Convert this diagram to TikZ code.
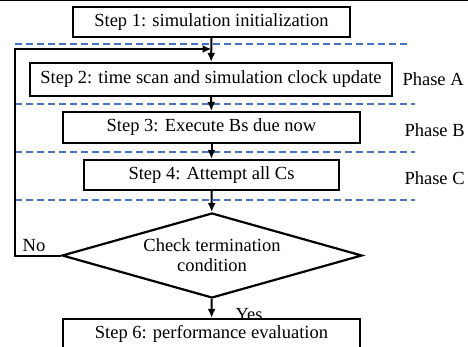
\documentclass[tikz,border=0pt]{standalone}
\usepackage{fontspec}
\setmainfont{Liberation Serif}
\usetikzlibrary{arrows.meta,shapes.geometric}
\definecolor{phaseblue}{RGB}{68,114,196}
\tikzset{
  stepbox/.style={draw, line width=2.2pt, fill=white, minimum height=30pt, inner sep=0pt},
  phaseline/.style={phaseblue, line width=1.8pt, dash pattern=on 7pt off 4pt},
  flow/.style={line width=2pt, -{Latex[length=9pt,width=8pt]}},
}
\begin{document}
\begin{tikzpicture}[x=1pt,y=-1pt,font=\fontsize{18.5}{20}\selectfont]
\clip (0,0) rectangle (468,347);
\draw[line width=2pt] (0,0.5) -- (468,0.5);

\node[stepbox, minimum width=277pt] (s1) at (211.5,22) {Step 1: simulation initialization};
\node[stepbox, minimum width=362pt, minimum height=33pt] (s2) at (211,79.5) {Step 2: time scan and simulation clock update};
\node[stepbox, minimum width=297pt, minimum height=31pt] (s3) at (211.5,127.5) {Step 3: Execute Bs due now};
\node[stepbox, minimum width=255pt] (s4) at (211.5,175) {Step 4: Attempt all Cs};
\node[draw, diamond, line width=2.2pt, aspect=3.5, inner sep=0pt, minimum width=300pt, minimum height=85pt, align=center] (chk) at (212,255.5) {Check termination\\condition};

\node[anchor=west] (pa) at (399,79) {Phase A};
\node[anchor=west] (pb) at (401,130) {Phase B};
\node[anchor=west] (pc) at (401,178) {Phase C};

\draw[phaseline] (15,44) -- (408,44);
\draw[phaseline] (15,104) -- (415,104);
\draw[phaseline] (15,152) -- (415,152);
\draw[phaseline] (15,200) -- (415,200);

\node (no) at (34,246) {No};
\node (yes) at (249,315) {Yes};
\node[stepbox, minimum width=297pt] (s6) at (211.5,334) {Step 6: performance evaluation};

\coordinate (back) at (s1.south |- 0,49);
\draw[flow] (s1) -- (s2);
\draw[flow] (s2) -- (s3);
\draw[flow] (s3) -- (s4);
\draw[flow] (s4) -- (chk);
\draw[flow] (chk) -- (s6);
\draw[flow] (chk.west) -- (15,255.5) |- (back);
\end{tikzpicture}
\end{document}
